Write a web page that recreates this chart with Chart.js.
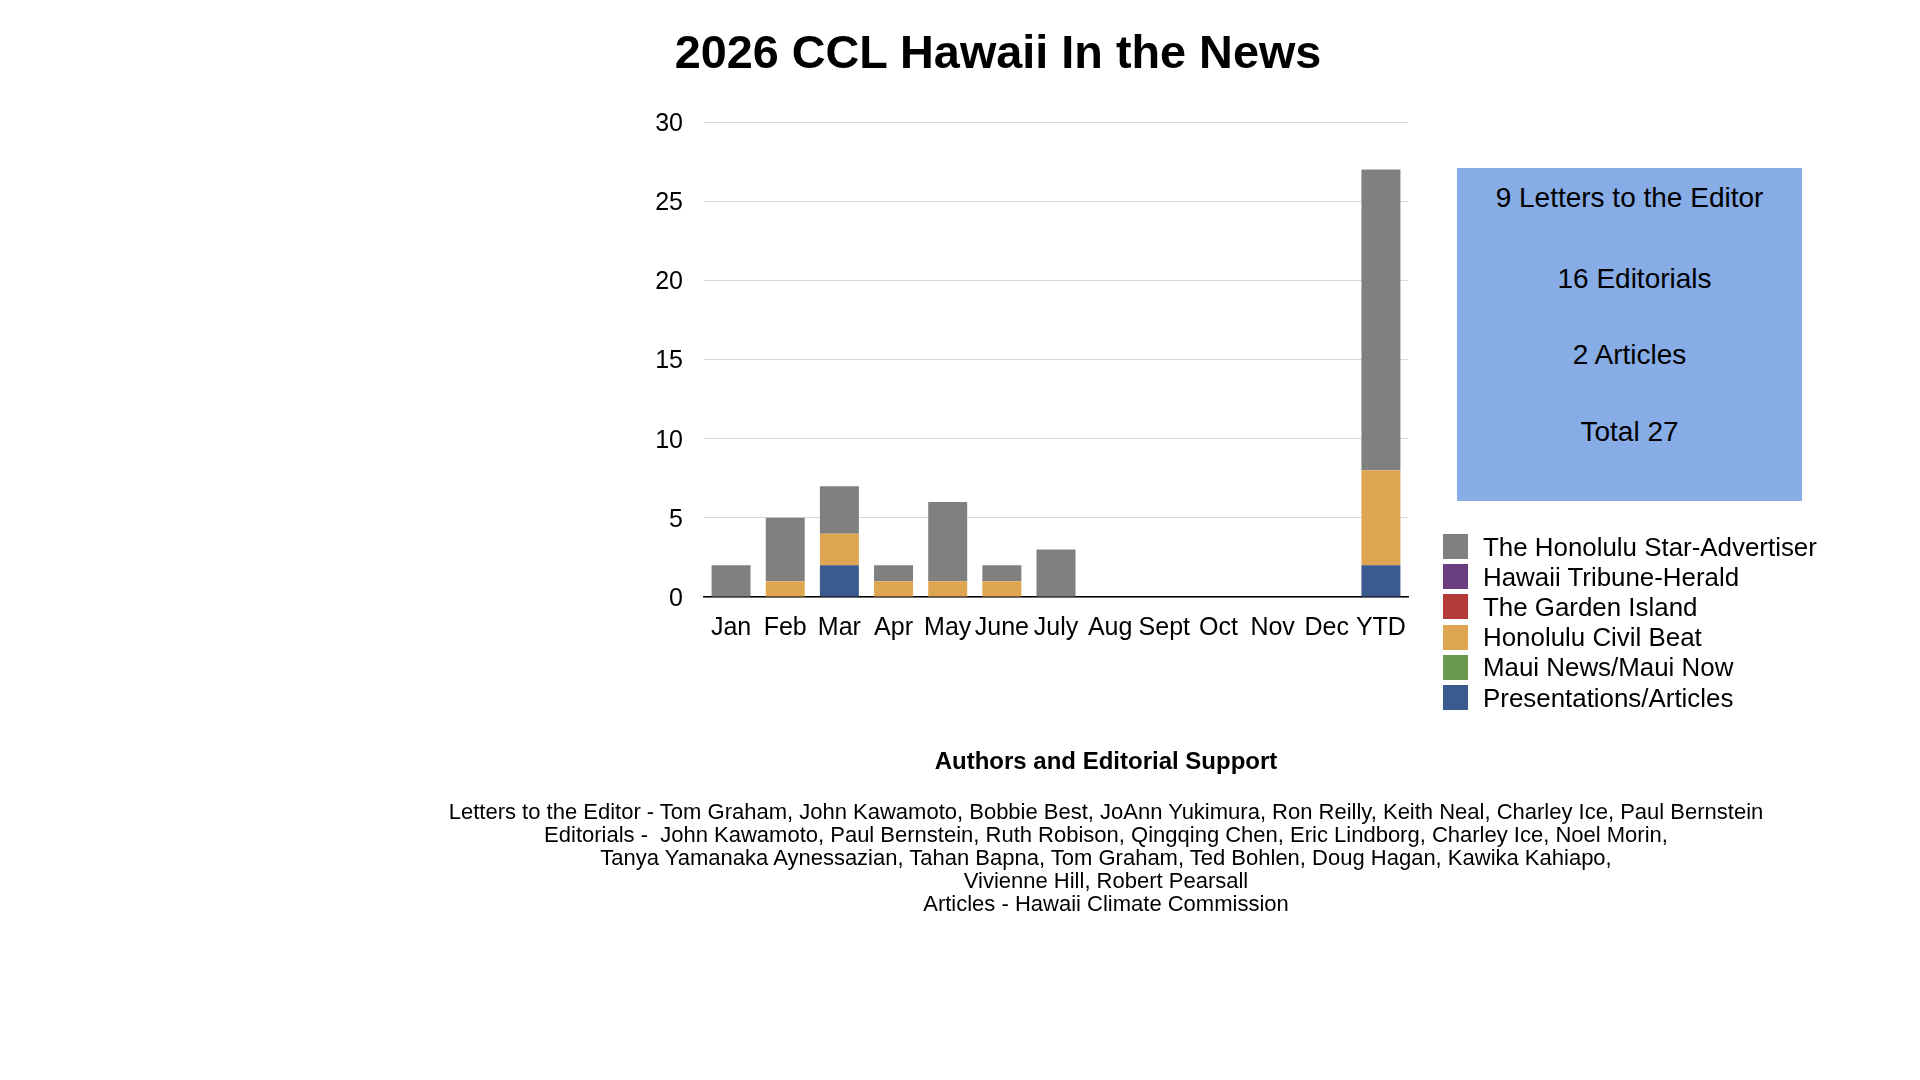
<!DOCTYPE html>
<html>
<head>
<meta charset="utf-8">
<script src="https://cdn.jsdelivr.net/npm/chart.js@4.4.1/dist/chart.umd.min.js"></script>
<style>
  html, body { margin: 0; padding: 0; background: #fff; }
  body { width: 1920px; height: 1080px; position: relative; overflow: hidden; font-family: "Liberation Sans", Arial, sans-serif; color: #000; }
  #wrap { position: absolute; left: 0; top: 0; width: 1920px; height: 1080px; }
  .abs { position: absolute; white-space: pre; }
  #title { left: 498px; width: 1000px; top: 22px; height: 60px; line-height: 60px; text-align: center; font-weight: bold; font-size: 46.8px; }
  #box { left: 1457px; top: 168px; width: 345px; height: 333px; background: #87ace6; }
  .boxline { left: 1457px; width: 345px; height: 40px; line-height: 40px; text-align: center; font-size: 28px; }
  .legrow { left: 1443px; height: 30px; }
  .legsw { position: absolute; left: 0; top: 0; width: 25px; height: 25px; }
  .legtx { position: absolute; left: 40px; top: -2.5px; height: 30px; line-height: 30px; font-size: 25.9px; white-space: pre; }
  #heading { left: 606px; width: 1000px; top: 746px; height: 30px; line-height: 30px; text-align: center; font-weight: bold; font-size: 24px; }
  #body { left: 356px; width: 1500px; top: 799.5px; line-height: 23.1px; text-align: center; font-size: 22px; }
</style>
</head>
<body>
<div id="wrap"><canvas id="c" width="1920" height="1080"></canvas></div>
<div id="title" class="abs"></div>
<div id="box" class="abs"></div>
<div id="legend"></div>
<div id="heading" class="abs"></div>
<div id="body" class="abs"></div>
<script>
// ---- data ----
const chartTitle = '2026 CCL Hawaii In the News';
const categories = ['Jan','Feb','Mar','Apr','May','June','July','Aug','Sept','Oct','Nov','Dec','YTD'];
const starAdvertiser = [2,4,3,1,5,1,3,0,0,0,0,0,19];
const tribuneHerald  = [0,0,0,0,0,0,0,0,0,0,0,0,0];
const gardenIsland   = [0,0,0,0,0,0,0,0,0,0,0,0,0];
const civilBeat      = [0,1,2,1,1,1,0,0,0,0,0,0,6];
const mauiNews       = [0,0,0,0,0,0,0,0,0,0,0,0,0];
const presentations  = [0,0,2,0,0,0,0,0,0,0,0,0,2];
const seriesNames = ['The Honolulu Star-Advertiser','Hawaii Tribune-Herald','The Garden Island','Honolulu Civil Beat','Maui News/Maui Now','Presentations/Articles'];
const seriesColors = ['#808080','#6b3e80','#b33a36','#dfa652','#699a4f','#3b5a8d'];
const yMin = 0, yMax = 30, yStep = 5;
const summaryLines = ['9 Letters to the Editor','16 Editorials','2 Articles','Total 27'];
const creditsHeading = 'Authors and Editorial Support';
const creditsLines = [
  'Letters to the Editor - Tom Graham, John Kawamoto, Bobbie Best, JoAnn Yukimura, Ron Reilly, Keith Neal, Charley Ice, Paul Bernstein',
  'Editorials -  John Kawamoto, Paul Bernstein, Ruth Robison, Qingqing Chen, Eric Lindborg, Charley Ice, Noel Morin,',
  'Tanya Yamanaka Aynessazian, Tahan Bapna, Tom Graham, Ted Bohlen, Doug Hagan, Kawika Kahiapo,',
  'Vivienne Hill, Robert Pearsall',
  'Articles - Hawaii Climate Commission'
];

// ---- text ----
document.getElementById('title').textContent = chartTitle;
document.getElementById('heading').textContent = creditsHeading;
document.getElementById('body').textContent = creditsLines.join('\n');
const boxCenters = [198, 279, 355, 432];
const boxShift = [0, 5, 0, 0];
summaryLines.forEach((t, i) => {
  const d = document.createElement('div');
  d.className = 'abs boxline';
  d.style.top = (boxCenters[i] - 20) + 'px';
  d.style.paddingLeft = (boxShift[i] * 2) + 'px';
  d.style.boxSizing = 'border-box';
  d.textContent = t;
  document.body.appendChild(d);
});
const leg = document.getElementById('legend');
seriesNames.forEach((n, i) => {
  const r = document.createElement('div');
  r.className = 'abs legrow';
  r.style.top = (534 + i * 30.2) + 'px';
  const sw = document.createElement('div');
  sw.className = 'legsw';
  sw.style.background = seriesColors[i];
  const tx = document.createElement('div');
  tx.className = 'legtx';
  tx.textContent = n;
  r.appendChild(sw); r.appendChild(tx);
  leg.appendChild(r);
});

// ---- chart ----
const seriesData = [starAdvertiser, tribuneHerald, gardenIsland, civilBeat, mauiNews, presentations];
// stack bottom-to-top: presentations first, star-advertiser last
const stackOrder = [5, 4, 3, 2, 1, 0];
const datasets = stackOrder.map(i => ({
  label: seriesNames[i],
  data: seriesData[i],
  backgroundColor: seriesColors[i],
  borderWidth: 0,
  categoryPercentage: 1.0,
  barPercentage: 0.72
}));

new Chart(document.getElementById('c'), {
  type: 'bar',
  data: { labels: categories, datasets },
  options: {
    responsive: false,
    animation: false,
    devicePixelRatio: 1,
    layout: { padding: { left: 604, right: 512, top: 122, bottom: 423 } },
    plugins: { legend: { display: false }, title: { display: false }, tooltip: { enabled: false } },
    scales: {
      x: {
        stacked: true,
        grid: { display: false, drawTicks: false },
        border: { display: true, color: '#000', width: 1.5 },
        ticks: { color: '#000', font: { family: 'Liberation Sans', size: 25 }, autoSkip: false, maxRotation: 0, minRotation: 0, padding: 16.5 },
        afterFit: s => { s.height = 60; }
      },
      y: {
        stacked: true,
        min: yMin, max: yMax,
        grid: { color: '#d9d9d9', lineWidth: 1, drawTicks: false },
        border: { display: false },
        ticks: { stepSize: yStep, color: '#000', font: { family: 'Liberation Sans', size: 25 }, padding: 21, labelOffset: 2 },
        afterFit: s => { s.width = 100; }
      }
    }
  }
});
</script>
</body>
</html>
